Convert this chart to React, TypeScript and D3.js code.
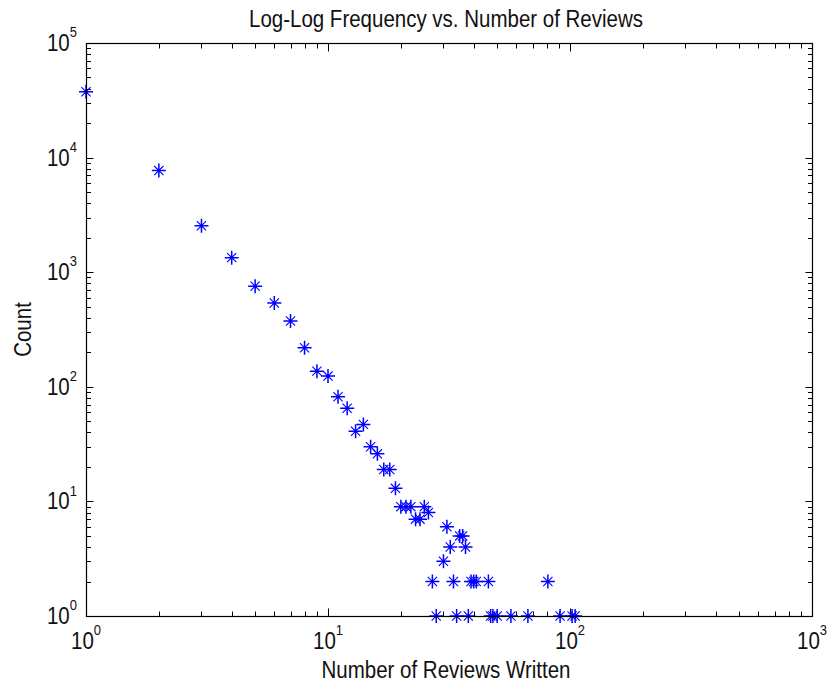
import React from "react";
import * as d3 from "d3";

// Number of reviews written by a user, and how many users wrote that many
const reviewsWritten = [
  1, 2, 3, 4, 5, 6, 7, 8, 9, 10, 11, 12, 13, 14, 15, 16, 17, 18, 19, 20,
  21, 22, 23, 24, 25, 26, 27, 28, 30, 31, 32, 33, 34, 35, 36, 37, 38, 39,
  40, 41, 46, 47, 48, 50, 57, 67, 81, 91, 102, 105,
];
const userCount = [
  37500, 7700, 2540, 1340, 755, 539, 375, 219, 137, 124, 82, 65, 41, 47, 30,
  26, 19, 19, 13, 9, 9, 9, 7, 7, 9, 8, 2, 1, 3, 6, 4, 2, 1, 5, 5, 4, 1, 2, 2,
  2, 2, 1, 1, 1, 1, 1, 2, 1, 1, 1,
];

const xTickExponents = [0, 1, 2, 3];
const yTickExponents = [0, 1, 2, 3, 4, 5];

const titleText = "Log-Log Frequency vs. Number of Reviews";
const xLabelText = "Number of Reviews Written";
const yLabelText = "Count";

const W = 830;
const H = 688;
const plot = { left: 86, right: 812, top: 43, bottom: 616 };
const FONT = "'Liberation Sans', Arial, Helvetica, sans-serif";
const FS = 20.5;
const SUP = 13;
const STRETCH = 1.15;

const x = d3.scaleLog().domain([1, 1000]).range([plot.left, plot.right]);
const y = d3.scaleLog().domain([1, 1e5]).range([plot.bottom, plot.top]);

function minorTicks(lo: number, hi: number) {
  const out: number[] = [];
  for (let e = lo; e < hi; e++) {
    for (let k = 2; k <= 9; k++) out.push(k * Math.pow(10, e));
  }
  return out;
}

const xMinor = minorTicks(0, 3);
const yMinor = minorTicks(0, 5);

// asterisk marker: a bold plus with thinner diagonal strokes
const plusArms = "M-7,0H7M0,-7V7";
const crossArms = "M-4.6,-4.6L4.6,4.6M-4.6,4.6L4.6,-4.6";

function Stretched({ tx, ty, rotate = 0, children }: any) {
  return (
    <g transform={`translate(${tx},${ty}) rotate(${rotate}) scale(1,${STRETCH})`}>
      {children}
    </g>
  );
}

export default function App() {
  const data = reviewsWritten.map((r, i) => ({ r, c: userCount[i] }));
  const L = plot.left + 0.5;
  const R = plot.right + 0.5;
  const T = plot.top + 0.5;
  const B = plot.bottom + 0.5;

  return (
    <svg
      width={W}
      height={H}
      style={{ position: "absolute", left: 0, top: 0, background: "#fff" }}
      fontFamily={FONT}
    >
      <rect x={0} y={0} width={W} height={H} fill="#fff" />

      {/* tick marks, drawn inward on all four sides */}
      <g stroke="#000" strokeWidth={1}>
        {xMinor.map((v) => {
          const px = Math.round(x(v)) + 0.5;
          return (
            <g key={"xm" + v}>
              <line x1={px} x2={px} y1={B} y2={B - 5} />
              <line x1={px} x2={px} y1={T} y2={T + 5} />
            </g>
          );
        })}
        {xTickExponents.map((e) => {
          const px = Math.round(x(Math.pow(10, e))) + 0.5;
          return (
            <g key={"xM" + e}>
              <line x1={px} x2={px} y1={B} y2={B - 8} />
              <line x1={px} x2={px} y1={T} y2={T + 8} />
            </g>
          );
        })}
        {yMinor.map((v) => {
          const py = Math.round(y(v)) + 0.5;
          return (
            <g key={"ym" + v}>
              <line x1={L} x2={L + 4.5} y1={py} y2={py} />
              <line x1={R} x2={R - 4.5} y1={py} y2={py} />
            </g>
          );
        })}
        {yTickExponents.map((e) => {
          const py = Math.round(y(Math.pow(10, e))) + 0.5;
          return (
            <g key={"yM" + e}>
              <line x1={L} x2={L + 7} y1={py} y2={py} />
              <line x1={R} x2={R - 7} y1={py} y2={py} />
            </g>
          );
        })}
      </g>

      {/* data markers */}
      <g stroke="#0000ff" fill="none">
        {data.map((d) => (
          <g key={d.r} transform={`translate(${x(d.r)},${y(d.c)})`}>
            <path d={plusArms} strokeWidth={1.5} />
            <path d={crossArms} strokeWidth={1.1} />
            <circle r={1.8} fill="#0000ff" stroke="none" />
          </g>
        ))}
      </g>

      {/* axes box */}
      <rect
        x={L}
        y={T}
        width={R - L}
        height={B - T}
        fill="none"
        stroke="#000"
        strokeWidth={1.2}
      />

      {/* x tick labels */}
      {xTickExponents.map((e) => (
        <Stretched key={"xl" + e} tx={x(Math.pow(10, e))} ty={649}>
          <text textAnchor="middle" fontSize={FS} fill="#111">
            10
            <tspan fontSize={SUP} dy={-12}>
              {e}
            </tspan>
          </text>
        </Stretched>
      ))}

      {/* y tick labels */}
      {yTickExponents.map((e) => (
        <Stretched key={"yl" + e} tx={77} ty={y(Math.pow(10, e)) + 8}>
          <text textAnchor="end" fontSize={FS} fill="#111">
            10
            <tspan fontSize={SUP} dy={-12}>
              {e}
            </tspan>
          </text>
        </Stretched>
      ))}

      {/* title and axis labels */}
      <Stretched tx={(plot.left + plot.right) / 2 - 3} ty={26.5}>
        <text textAnchor="middle" fontSize={FS} fill="#111">
          {titleText}
        </text>
      </Stretched>
      <Stretched tx={(plot.left + plot.right) / 2 - 3} ty={678}>
        <text textAnchor="middle" fontSize={FS} fill="#111">
          {xLabelText}
        </text>
      </Stretched>
      <Stretched tx={31} ty={(plot.top + plot.bottom) / 2} rotate={-90}>
        <text textAnchor="middle" fontSize={FS} fill="#111">
          {yLabelText}
        </text>
      </Stretched>
    </svg>
  );
}
